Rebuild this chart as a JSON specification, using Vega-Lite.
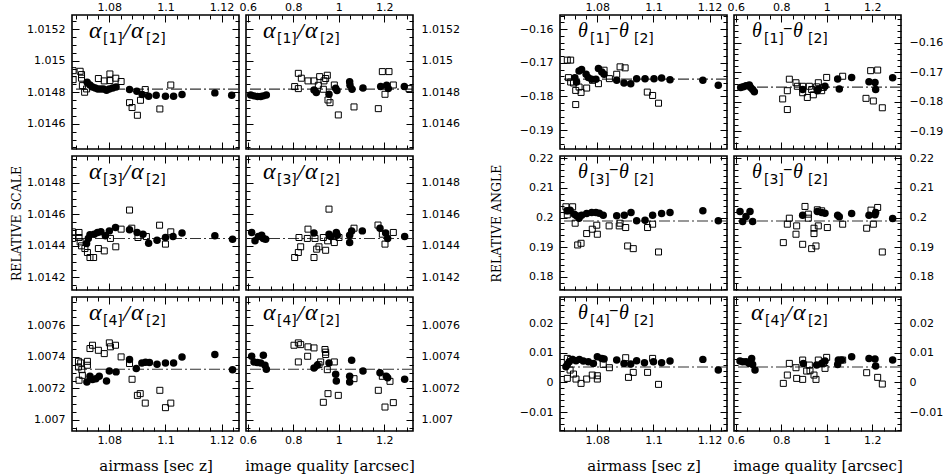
{
  "$schema": "https://vega.github.io/schema/vega-lite/v6.json",
  "background": "white",
  "autosize": {"type": "none"},
  "padding": {"left": 72, "top": 15, "right": 871, "bottom": 460},
  "datasets": {
    "sa1": [
      {"t":"c","x":1.0721,"y":1.014863},{"t":"c","x":1.0731,"y":1.014846},{"t":"c","x":1.074,"y":1.014834},{"t":"c","x":1.075,"y":1.014827},{"t":"c","x":1.0759,"y":1.014821},{"t":"c","x":1.0769,"y":1.014821},{"t":"c","x":1.0779,"y":1.014821},{"t":"c","x":1.079,"y":1.014813},{"t":"c","x":1.08,"y":1.014821},{"t":"c","x":1.0812,"y":1.014827},{"t":"c","x":1.0824,"y":1.014834},{"t":"c","x":1.0872,"y":1.014817},{"t":"c","x":1.0898,"y":1.014806},{"t":"c","x":1.0917,"y":1.014785},{"t":"c","x":1.094,"y":1.014775},{"t":"c","x":1.0967,"y":1.014781},{"t":"c","x":1.1,"y":1.014775},{"t":"c","x":1.1029,"y":1.014775},{"t":"c","x":1.1059,"y":1.014785},{"t":"c","x":1.1176,"y":1.014796},{"t":"c","x":1.1236,"y":1.014781},
      {"t":"s","x":1.0671,"y":1.014937},{"t":"s","x":1.0671,"y":1.01488},{"t":"s","x":1.0696,"y":1.014933},{"t":"s","x":1.0701,"y":1.014912},{"t":"s","x":1.0701,"y":1.014889},{"t":"s","x":1.0704,"y":1.014842},{"t":"s","x":1.0712,"y":1.0148},{"t":"s","x":1.0719,"y":1.014821},{"t":"s","x":1.0761,"y":1.014887},{"t":"s","x":1.0782,"y":1.014872},{"t":"s","x":1.0802,"y":1.014916},{"t":"s","x":1.0802,"y":1.014874},{"t":"s","x":1.0823,"y":1.014889},{"t":"s","x":1.0842,"y":1.014868},{"t":"s","x":1.0928,"y":1.014817},{"t":"s","x":1.0872,"y":1.014734},{"t":"s","x":1.0881,"y":1.014703},{"t":"s","x":1.09,"y":1.014654},{"t":"s","x":1.0911,"y":1.014749},{"t":"s","x":1.098,"y":1.014694},{"t":"s","x":1.1019,"y":1.014846}
    ],
    "sq1": [
      {"t":"c","x":0.6125,"y":1.014783},{"t":"c","x":0.6272,"y":1.014777},{"t":"c","x":0.6418,"y":1.014773},{"t":"c","x":0.6565,"y":1.014773},{"t":"c","x":0.6682,"y":1.014777},{"t":"c","x":0.6814,"y":1.014783},{"t":"c","x":0.8909,"y":1.014815},{"t":"c","x":0.9011,"y":1.014798},{"t":"c","x":0.9568,"y":1.014787},{"t":"c","x":0.986,"y":1.014825},{"t":"c","x":0.9919,"y":1.014811},{"t":"c","x":1.0476,"y":1.014866},{"t":"c","x":1.0491,"y":1.014844},{"t":"c","x":1.0579,"y":1.014819},{"t":"c","x":1.1062,"y":1.014827},{"t":"c","x":1.1839,"y":1.014836},{"t":"c","x":1.2102,"y":1.014844},{"t":"c","x":1.2175,"y":1.014823},{"t":"c","x":1.2879,"y":1.014836},
      {"t":"s","x":0.8059,"y":1.014836},{"t":"s","x":0.822,"y":1.014823},{"t":"s","x":0.822,"y":1.01492},{"t":"s","x":0.8352,"y":1.014889},{"t":"s","x":0.8645,"y":1.014872},{"t":"s","x":0.8909,"y":1.014872},{"t":"s","x":0.9158,"y":1.014899},{"t":"s","x":0.9099,"y":1.014844},{"t":"s","x":0.9348,"y":1.014872},{"t":"s","x":0.9421,"y":1.014887},{"t":"s","x":0.9494,"y":1.014908},{"t":"s","x":0.9319,"y":1.014819},{"t":"s","x":0.9524,"y":1.014751},{"t":"s","x":0.9612,"y":1.014734},{"t":"s","x":0.9802,"y":1.014846},{"t":"s","x":1.0667,"y":1.014707},{"t":"s","x":0.9978,"y":1.014656},{"t":"s","x":1.1736,"y":1.014696},{"t":"s","x":1.1912,"y":1.014931},{"t":"s","x":1.2205,"y":1.014931},{"t":"s","x":1.2029,"y":1.014787},{"t":"s","x":1.2395,"y":1.014846},{"t":"s","x":1.3084,"y":1.014823}
    ],
    "sa2": [
      {"t":"c","x":1.0719,"y":1.014415},{"t":"c","x":1.0725,"y":1.014447},{"t":"c","x":1.0731,"y":1.01447},{"t":"c","x":1.0746,"y":1.014474},{"t":"c","x":1.0758,"y":1.014485},{"t":"c","x":1.077,"y":1.014489},{"t":"c","x":1.0786,"y":1.014464},{"t":"c","x":1.08,"y":1.014495},{"t":"c","x":1.0822,"y":1.014517},{"t":"c","x":1.0872,"y":1.014502},{"t":"c","x":1.0899,"y":1.014485},{"t":"c","x":1.092,"y":1.014474},{"t":"c","x":1.094,"y":1.014417},{"t":"c","x":1.097,"y":1.014436},{"t":"c","x":1.1,"y":1.014453},{"t":"c","x":1.1027,"y":1.014459},{"t":"c","x":1.1059,"y":1.014481},{"t":"c","x":1.1176,"y":1.014464},{"t":"c","x":1.1239,"y":1.014442},
      {"t":"s","x":1.0669,"y":1.014489},{"t":"s","x":1.0669,"y":1.014447},{"t":"s","x":1.0692,"y":1.014485},{"t":"s","x":1.0692,"y":1.014453},{"t":"s","x":1.0696,"y":1.014425},{"t":"s","x":1.0701,"y":1.0144},{"t":"s","x":1.0713,"y":1.014383},{"t":"s","x":1.0722,"y":1.014358},{"t":"s","x":1.0731,"y":1.014326},{"t":"s","x":1.0744,"y":1.014326},{"t":"s","x":1.0761,"y":1.014383},{"t":"s","x":1.0782,"y":1.014368},{"t":"s","x":1.0804,"y":1.014447},{"t":"s","x":1.0823,"y":1.014394},{"t":"s","x":1.0842,"y":1.014506},{"t":"s","x":1.0872,"y":1.014627},{"t":"s","x":1.088,"y":1.014512},{"t":"s","x":1.0902,"y":1.014453},{"t":"s","x":1.0932,"y":1.014459},{"t":"s","x":1.0979,"y":1.014531},{"t":"s","x":1.1,"y":1.014411},{"t":"s","x":1.1019,"y":1.014489}
    ],
    "sq2": [
      {"t":"c","x":0.6169,"y":1.014485},{"t":"c","x":0.6316,"y":1.014432},{"t":"c","x":0.6462,"y":1.014459},{"t":"c","x":0.6609,"y":1.014468},{"t":"c","x":0.6682,"y":1.014447},{"t":"c","x":0.6784,"y":1.014442},{"t":"c","x":0.8909,"y":1.014481},{"t":"c","x":0.9568,"y":1.014474},{"t":"c","x":0.9641,"y":1.014459},{"t":"c","x":0.989,"y":1.014485},{"t":"c","x":0.9934,"y":1.014468},{"t":"c","x":1.0476,"y":1.014468},{"t":"c","x":1.0476,"y":1.014421},{"t":"c","x":1.0564,"y":1.014495},{"t":"c","x":1.1033,"y":1.014495},{"t":"c","x":1.1809,"y":1.014512},{"t":"c","x":1.2058,"y":1.014481},{"t":"c","x":1.2146,"y":1.014447},{"t":"c","x":1.2893,"y":1.014459},
      {"t":"s","x":0.8059,"y":1.014326},{"t":"s","x":0.822,"y":1.014358},{"t":"s","x":0.8323,"y":1.014394},{"t":"s","x":0.8249,"y":1.014453},{"t":"s","x":0.8645,"y":1.014506},{"t":"s","x":0.8616,"y":1.014447},{"t":"s","x":0.8953,"y":1.014447},{"t":"s","x":0.8909,"y":1.014326},{"t":"s","x":0.9026,"y":1.014379},{"t":"s","x":0.9128,"y":1.014394},{"t":"s","x":0.9319,"y":1.014453},{"t":"s","x":0.9421,"y":1.014372},{"t":"s","x":0.9509,"y":1.014432},{"t":"s","x":0.9568,"y":1.014633},{"t":"s","x":0.9802,"y":1.014421},{"t":"s","x":1.0007,"y":1.014453},{"t":"s","x":1.0667,"y":1.014512},{"t":"s","x":1.1721,"y":1.014532},{"t":"s","x":1.1912,"y":1.014474},{"t":"s","x":1.2029,"y":1.014411},{"t":"s","x":1.2395,"y":1.014485}
    ],
    "sa3": [
      {"t":"c","x":1.072,"y":1.007241},{"t":"c","x":1.0731,"y":1.007277},{"t":"c","x":1.074,"y":1.007256},{"t":"c","x":1.0752,"y":1.007262},{"t":"c","x":1.0764,"y":1.007277},{"t":"c","x":1.079,"y":1.007247},{"t":"c","x":1.08,"y":1.007311},{"t":"c","x":1.0824,"y":1.007305},{"t":"c","x":1.0872,"y":1.007383},{"t":"c","x":1.0896,"y":1.007326},{"t":"c","x":1.0916,"y":1.007362},{"t":"c","x":1.0929,"y":1.007366},{"t":"c","x":1.0943,"y":1.007364},{"t":"c","x":1.097,"y":1.007353},{"t":"c","x":1.1,"y":1.007362},{"t":"c","x":1.1029,"y":1.007362},{"t":"c","x":1.1059,"y":1.0074},{"t":"c","x":1.1176,"y":1.007415},{"t":"c","x":1.1239,"y":1.007319},
      {"t":"s","x":1.069,"y":1.007372},{"t":"s","x":1.069,"y":1.007336},{"t":"s","x":1.0692,"y":1.007252},{"t":"s","x":1.0698,"y":1.007362},{"t":"s","x":1.0702,"y":1.007319},{"t":"s","x":1.0704,"y":1.007283},{"t":"s","x":1.0722,"y":1.007372},{"t":"s","x":1.0722,"y":1.007347},{"t":"s","x":1.0731,"y":1.007453},{"t":"s","x":1.074,"y":1.007474},{"t":"s","x":1.0761,"y":1.007442},{"t":"s","x":1.0782,"y":1.007421},{"t":"s","x":1.08,"y":1.007489},{"t":"s","x":1.0804,"y":1.007464},{"t":"s","x":1.0822,"y":1.007474},{"t":"s","x":1.0842,"y":1.0074},{"t":"s","x":1.0872,"y":1.007358},{"t":"s","x":1.0881,"y":1.007258},{"t":"s","x":1.09,"y":1.007156},{"t":"s","x":1.091,"y":1.007167},{"t":"s","x":1.0928,"y":1.007107},{"t":"s","x":1.098,"y":1.007188},{"t":"s","x":1.1,"y":1.007078},{"t":"s","x":1.1019,"y":1.007107}
    ],
    "sq3": [
      {"t":"c","x":0.6169,"y":1.007404},{"t":"c","x":0.6272,"y":1.007368},{"t":"c","x":0.6418,"y":1.007364},{"t":"c","x":0.6565,"y":1.007362},{"t":"c","x":0.6682,"y":1.007411},{"t":"c","x":0.6755,"y":1.007347},{"t":"c","x":0.6814,"y":1.007322},{"t":"c","x":0.8909,"y":1.00733},{"t":"c","x":0.9055,"y":1.007347},{"t":"c","x":0.9568,"y":1.007362},{"t":"c","x":0.9861,"y":1.00729},{"t":"c","x":0.989,"y":1.007247},{"t":"c","x":1.0476,"y":1.007277},{"t":"c","x":1.0476,"y":1.007241},{"t":"c","x":1.0564,"y":1.007379},{"t":"c","x":1.1062,"y":1.007311},{"t":"c","x":1.1809,"y":1.0073},{"t":"c","x":1.2087,"y":1.007277},{"t":"c","x":1.2146,"y":1.007268},{"t":"c","x":1.2893,"y":1.007258},
      {"t":"s","x":0.803,"y":1.007474},{"t":"s","x":0.822,"y":1.007489},{"t":"s","x":0.8323,"y":1.007478},{"t":"s","x":0.8645,"y":1.007464},{"t":"s","x":0.8909,"y":1.007457},{"t":"s","x":0.822,"y":1.007368},{"t":"s","x":0.863,"y":1.007404},{"t":"s","x":0.9202,"y":1.007368},{"t":"s","x":0.9128,"y":1.007351},{"t":"s","x":0.9392,"y":1.007447},{"t":"s","x":0.9421,"y":1.00743},{"t":"s","x":0.9421,"y":1.007415},{"t":"s","x":0.9494,"y":1.007319},{"t":"s","x":0.9802,"y":1.007368},{"t":"s","x":0.9524,"y":1.007167},{"t":"s","x":0.9319,"y":1.007112},{"t":"s","x":0.9978,"y":1.007156},{"t":"s","x":1.0667,"y":1.007262},{"t":"s","x":1.1736,"y":1.007188},{"t":"s","x":1.1912,"y":1.007277},{"t":"s","x":1.2029,"y":1.007082},{"t":"s","x":1.2249,"y":1.007245},{"t":"s","x":1.2395,"y":1.00711}
    ],
    "ta1": [
      {"t":"c","x":1.072,"y":-0.1744},{"t":"c","x":1.0726,"y":-0.1757},{"t":"c","x":1.0735,"y":-0.1724},{"t":"c","x":1.0744,"y":-0.172},{"t":"c","x":1.076,"y":-0.1734},{"t":"c","x":1.0768,"y":-0.1744},{"t":"c","x":1.078,"y":-0.1749},{"t":"c","x":1.0795,"y":-0.1749},{"t":"c","x":1.0804,"y":-0.1717},{"t":"c","x":1.0816,"y":-0.1727},{"t":"c","x":1.0824,"y":-0.1734},{"t":"c","x":1.0869,"y":-0.1752},{"t":"c","x":1.0895,"y":-0.176},{"t":"c","x":1.0919,"y":-0.1762},{"t":"c","x":1.094,"y":-0.1747},{"t":"c","x":1.097,"y":-0.1747},{"t":"c","x":1.1002,"y":-0.1747},{"t":"c","x":1.1029,"y":-0.1745},{"t":"c","x":1.1059,"y":-0.175},{"t":"c","x":1.1176,"y":-0.1752},{"t":"c","x":1.1231,"y":-0.1767},
      {"t":"s","x":1.0693,"y":-0.1692},{"t":"s","x":1.0705,"y":-0.1692},{"t":"s","x":1.0697,"y":-0.1744},{"t":"s","x":1.0705,"y":-0.1757},{"t":"s","x":1.0715,"y":-0.176},{"t":"s","x":1.0723,"y":-0.1782},{"t":"s","x":1.0723,"y":-0.1824},{"t":"s","x":1.0735,"y":-0.1772},{"t":"s","x":1.0742,"y":-0.1788},{"t":"s","x":1.0762,"y":-0.1775},{"t":"s","x":1.0783,"y":-0.1752},{"t":"s","x":1.0804,"y":-0.1762},{"t":"s","x":1.0824,"y":-0.1722},{"t":"s","x":1.0843,"y":-0.1747},{"t":"s","x":1.0869,"y":-0.1734},{"t":"s","x":1.0881,"y":-0.1712},{"t":"s","x":1.0899,"y":-0.1715},{"t":"s","x":1.0978,"y":-0.1787},{"t":"s","x":1.0997,"y":-0.1797},{"t":"s","x":1.1018,"y":-0.182}
    ],
    "tq1": [
      {"t":"c","x":0.6213,"y":-0.1752},{"t":"c","x":0.633,"y":-0.175},{"t":"c","x":0.6447,"y":-0.1746},{"t":"c","x":0.6594,"y":-0.1744},{"t":"c","x":0.6653,"y":-0.1752},{"t":"c","x":0.674,"y":-0.1759},{"t":"c","x":0.6814,"y":-0.1767},{"t":"c","x":0.8938,"y":-0.1759},{"t":"c","x":0.9583,"y":-0.1763},{"t":"c","x":0.9626,"y":-0.1758},{"t":"c","x":0.992,"y":-0.1748},{"t":"c","x":1.0476,"y":-0.1723},{"t":"c","x":1.0549,"y":-0.1757},{"t":"c","x":1.1091,"y":-0.1718},{"t":"c","x":1.1853,"y":-0.1733},{"t":"c","x":1.2117,"y":-0.1735},{"t":"c","x":1.2146,"y":-0.1759},{"t":"c","x":1.2893,"y":-0.1719},
      {"t":"s","x":0.8059,"y":-0.1791},{"t":"s","x":0.8264,"y":-0.1827},{"t":"s","x":0.8352,"y":-0.1724},{"t":"s","x":0.8264,"y":-0.1763},{"t":"s","x":0.8645,"y":-0.1736},{"t":"s","x":0.8704,"y":-0.1748},{"t":"s","x":0.8938,"y":-0.1748},{"t":"s","x":0.8938,"y":-0.177},{"t":"s","x":0.9143,"y":-0.1786},{"t":"s","x":0.9231,"y":-0.1748},{"t":"s","x":0.9333,"y":-0.1759},{"t":"s","x":0.9407,"y":-0.1777},{"t":"s","x":0.9553,"y":-0.175},{"t":"s","x":0.9626,"y":-0.1736},{"t":"s","x":0.9773,"y":-0.1763},{"t":"s","x":0.9846,"y":-0.1752},{"t":"s","x":0.9993,"y":-0.1718},{"t":"s","x":1.0696,"y":-0.1714},{"t":"s","x":1.1721,"y":-0.1789},{"t":"s","x":1.1927,"y":-0.1695},{"t":"s","x":1.2234,"y":-0.1693},{"t":"s","x":1.2044,"y":-0.1798},{"t":"s","x":1.2439,"y":-0.1821}
    ],
    "ta2": [
      {"t":"c","x":1.0693,"y":0.20225},{"t":"c","x":1.0703,"y":0.20248},{"t":"c","x":1.0718,"y":0.20113},{"t":"c","x":1.0726,"y":0.20056},{"t":"c","x":1.0735,"y":0.19977},{"t":"c","x":1.0744,"y":0.20079},{"t":"c","x":1.0762,"y":0.20135},{"t":"c","x":1.078,"y":0.20169},{"t":"c","x":1.0795,"y":0.20169},{"t":"c","x":1.0807,"y":0.20147},{"t":"c","x":1.0821,"y":0.20079},{"t":"c","x":1.0869,"y":0.20056},{"t":"c","x":1.0896,"y":0.20079},{"t":"c","x":1.092,"y":0.20169},{"t":"c","x":1.094,"y":0.19887},{"t":"c","x":1.097,"y":0.1991},{"t":"c","x":1.0997,"y":0.20079},{"t":"c","x":1.1029,"y":0.20135},{"t":"c","x":1.1059,"y":0.20169},{"t":"c","x":1.1176,"y":0.20225},{"t":"c","x":1.1231,"y":0.19887},
      {"t":"s","x":1.0688,"y":0.20361},{"t":"s","x":1.0693,"y":0.20225},{"t":"s","x":1.0693,"y":0.2009},{"t":"s","x":1.0712,"y":0.20361},{"t":"s","x":1.0721,"y":0.19808},{"t":"s","x":1.073,"y":0.19076},{"t":"s","x":1.0742,"y":0.19132},{"t":"s","x":1.0762,"y":0.19459},{"t":"s","x":1.0782,"y":0.19606},{"t":"s","x":1.0798,"y":0.19741},{"t":"s","x":1.08,"y":0.19437},{"t":"s","x":1.0842,"y":0.19718},{"t":"s","x":1.0878,"y":0.19718},{"t":"s","x":1.0881,"y":0.19808},{"t":"s","x":1.0901,"y":0.19662},{"t":"s","x":1.0908,"y":0.19042},{"t":"s","x":1.0928,"y":0.18952},{"t":"s","x":1.0979,"y":0.19662},{"t":"s","x":1.0997,"y":0.19775},{"t":"s","x":1.1018,"y":0.18839}
    ],
    "tq2": [
      {"t":"c","x":0.6184,"y":0.20203},{"t":"c","x":0.6623,"y":0.20203},{"t":"c","x":0.6447,"y":0.20034},{"t":"c","x":0.6301,"y":0.19865},{"t":"c","x":0.674,"y":0.19865},{"t":"c","x":0.8938,"y":0.20079},{"t":"c","x":0.9583,"y":0.20203},{"t":"c","x":0.9773,"y":0.20169},{"t":"c","x":0.992,"y":0.20147},{"t":"c","x":1.0476,"y":0.20079},{"t":"c","x":1.0549,"y":0.20023},{"t":"c","x":1.1091,"y":0.20135},{"t":"c","x":1.1853,"y":0.20079},{"t":"c","x":1.2117,"y":0.2009},{"t":"c","x":1.2146,"y":0.20169},{"t":"c","x":1.2893,"y":0.19966},
      {"t":"s","x":0.8088,"y":0.19155},{"t":"s","x":0.8264,"y":0.19775},{"t":"s","x":0.8352,"y":0.19977},{"t":"s","x":0.8645,"y":0.19437},{"t":"s","x":0.8674,"y":0.19718},{"t":"s","x":0.8938,"y":0.19098},{"t":"s","x":0.904,"y":0.20372},{"t":"s","x":0.9187,"y":0.20113},{"t":"s","x":0.9187,"y":0.19977},{"t":"s","x":0.9333,"y":0.18952},{"t":"s","x":0.9436,"y":0.19639},{"t":"s","x":0.9436,"y":0.19459},{"t":"s","x":0.9524,"y":0.19042},{"t":"s","x":0.9626,"y":0.19718},{"t":"s","x":0.9583,"y":0.20259},{"t":"s","x":0.9773,"y":0.20225},{"t":"s","x":1.0022,"y":0.19662},{"t":"s","x":1.0696,"y":0.19775},{"t":"s","x":1.1751,"y":0.19639},{"t":"s","x":1.1941,"y":0.20248},{"t":"s","x":1.2044,"y":0.19775},{"t":"s","x":1.2234,"y":0.20338},{"t":"s","x":1.2439,"y":0.18839}
    ],
    "ta3": [
      {"t":"c","x":1.0688,"y":0.00528},{"t":"c","x":1.0693,"y":0.00607},{"t":"c","x":1.07,"y":0.00697},{"t":"c","x":1.0712,"y":0.00776},{"t":"c","x":1.0724,"y":0.00731},{"t":"c","x":1.0736,"y":0.00776},{"t":"c","x":1.075,"y":0.00719},{"t":"c","x":1.0768,"y":0.00697},{"t":"c","x":1.0786,"y":0.00641},{"t":"c","x":1.08,"y":0.00865},{"t":"c","x":1.0816,"y":0.00809},{"t":"c","x":1.0824,"y":0.00787},{"t":"c","x":1.0869,"y":0.00753},{"t":"c","x":1.0895,"y":0.00641},{"t":"c","x":1.0919,"y":0.00618},{"t":"c","x":1.094,"y":0.00731},{"t":"c","x":1.0968,"y":0.00663},{"t":"c","x":1.1,"y":0.00697},{"t":"c","x":1.1029,"y":0.00663},{"t":"c","x":1.1059,"y":0.00719},{"t":"c","x":1.1176,"y":0.00776},{"t":"c","x":1.1231,"y":0.00416},
      {"t":"s","x":1.0693,"y":0.00809},{"t":"s","x":1.0705,"y":0.00776},{"t":"s","x":1.0693,"y":0.00135},{"t":"s","x":1.0703,"y":0.00416},{"t":"s","x":1.0715,"y":0.00281},{"t":"s","x":1.0724,"y":0.00112},{"t":"s","x":1.0742,"y":-0.00034},{"t":"s","x":1.0762,"y":0.00112},{"t":"s","x":1.0782,"y":0.00247},{"t":"s","x":1.08,"y":0.00225},{"t":"s","x":1.08,"y":0.00112},{"t":"s","x":1.0821,"y":0.00607},{"t":"s","x":1.0843,"y":0.00495},{"t":"s","x":1.0901,"y":0.00832},{"t":"s","x":1.0911,"y":0.00169},{"t":"s","x":1.0928,"y":0.00337},{"t":"s","x":1.0979,"y":0.00337},{"t":"s","x":1.0997,"y":0.00809},{"t":"s","x":1.1018,"y":-0.00067}
    ],
    "tq3": [
      {"t":"c","x":0.6184,"y":0.00719},{"t":"c","x":0.6301,"y":0.00697},{"t":"c","x":0.6447,"y":0.00697},{"t":"c","x":0.6594,"y":0.00641},{"t":"c","x":0.6696,"y":0.00809},{"t":"c","x":0.674,"y":0.00607},{"t":"c","x":0.6843,"y":0.00416},{"t":"c","x":0.8967,"y":0.00641},{"t":"c","x":0.9553,"y":0.00584},{"t":"c","x":0.9773,"y":0.00641},{"t":"c","x":0.992,"y":0.00719},{"t":"c","x":1.0476,"y":0.00607},{"t":"c","x":1.0505,"y":0.00753},{"t":"c","x":1.0652,"y":0.00753},{"t":"c","x":1.1091,"y":0.00865},{"t":"c","x":1.1853,"y":0.00809},{"t":"c","x":1.2117,"y":0.00787},{"t":"c","x":1.2146,"y":0.00551},{"t":"c","x":1.2893,"y":0.00753},
      {"t":"s","x":0.8088,"y":-0.00034},{"t":"s","x":0.8264,"y":0.00247},{"t":"s","x":0.8352,"y":0.00641},{"t":"s","x":0.8645,"y":0.00495},{"t":"s","x":0.8674,"y":0.00135},{"t":"s","x":0.8938,"y":0.00101},{"t":"s","x":0.8938,"y":0.00753},{"t":"s","x":0.9114,"y":0.00382},{"t":"s","x":0.9231,"y":0.00584},{"t":"s","x":0.926,"y":0.00393},{"t":"s","x":0.9436,"y":0.00247},{"t":"s","x":0.9524,"y":0.00101},{"t":"s","x":0.9626,"y":0.00753},{"t":"s","x":0.9846,"y":0.00641},{"t":"s","x":0.992,"y":0.00472},{"t":"s","x":0.9993,"y":0.00843},{"t":"s","x":1.0696,"y":0.00753},{"t":"s","x":1.1751,"y":0.00326},{"t":"s","x":1.2234,"y":0.00169},{"t":"s","x":1.2439,"y":-0.00056}
    ]
  },
  "concat": [
    {
      "width": 167, "height": 134, "data": {"name": "sa1"},
      "layer": [
        {"data": {"values": [{}]}, "mark": {"type": "rule", "color": "#333333", "strokeWidth": 1.1, "strokeDash": [11, 3, 2, 3]}, "encoding": {"y": {"datum": 1.01482, "type": "quantitative", "axis": null}}},
        {"transform": [{"filter": "datum.t == 's'"}], "mark": {"type": "square", "filled": false, "color": "black", "size": 36, "strokeWidth": 1, "opacity": 1, "clip": true},
         "encoding": {
           "x": {"field": "x", "type": "quantitative", "scale": {"domain": [1.0667, 1.1262], "nice": false, "zero": false}, "axis": {"orient": "bottom", "values": [1.08, 1.1, 1.12], "labels": false, "title": null}},
           "y": {"field": "y", "type": "quantitative", "scale": {"domain": [1.01444, 1.01529], "nice": false, "zero": false}, "axis": {"orient": "left", "values": [1.0146, 1.0148, 1.015, 1.0152], "format": "~g", "title": null}}}},
        {"transform": [{"filter": "datum.t == 'c'"}], "mark": {"type": "circle", "color": "black", "size": 56, "opacity": 1, "clip": true},
         "encoding": {
           "x": {"field": "x", "type": "quantitative", "axis": {"orient": "top", "values": [1.08, 1.1, 1.12], "format": "~g", "title": null}},
           "y": {"field": "y", "type": "quantitative", "axis": {"orient": "right", "values": [1.0146, 1.0148, 1.015, 1.0152], "labels": false, "title": null}}}},
        {"mark": {"type": "point", "opacity": 0},
         "encoding": {
           "x": {"field": "x", "type": "quantitative", "axis": {"orient": "bottom", "values": [1.068,1.072,1.076,1.08,1.084,1.088,1.092,1.096,1.1,1.104,1.108,1.112,1.116,1.12,1.124], "labels": false, "tickSize": -4, "title": null}},
           "y": {"field": "y", "type": "quantitative", "axis": {"orient": "left", "values": [1.01445,1.0145,1.01455,1.0146,1.01465,1.0147,1.01475,1.0148,1.01485,1.0149,1.01495,1.015,1.01505,1.0151,1.01515,1.0152,1.01525], "labels": false, "tickSize": -4, "title": null}}}},
        {"mark": {"type": "point", "opacity": 0},
         "encoding": {
           "x": {"field": "x", "type": "quantitative", "axis": {"orient": "top", "values": [1.068,1.072,1.076,1.08,1.084,1.088,1.092,1.096,1.1,1.104,1.108,1.112,1.116,1.12,1.124], "labels": false, "tickSize": -4, "title": null}},
           "y": {"field": "y", "type": "quantitative", "axis": {"orient": "right", "values": [1.01445,1.0145,1.01455,1.0146,1.01465,1.0147,1.01475,1.0148,1.01485,1.0149,1.01495,1.015,1.01505,1.0151,1.01515,1.0152,1.01525], "labels": false, "tickSize": -4, "title": null}}}},
        {"data": {"values": [{}]},
         "encoding": {"x": {"datum": 1.0667, "type": "quantitative", "axis": null}, "y": {"datum": 1.01529, "type": "quantitative", "axis": null}},
         "layer": [
           {"mark": {"type": "text", "text": "α", "font": "Liberation Serif", "fontStyle": "italic", "fontSize": 24, "align": "left", "baseline": "alphabetic", "color": "black", "dx": 17, "dy": 23}},
           {"mark": {"type": "text", "text": "[1]", "font": "DejaVu Sans", "fontSize": 14, "align": "left", "baseline": "alphabetic", "color": "black", "dx": 31, "dy": 28}},
           {"mark": {"type": "text", "text": "/", "font": "Liberation Serif", "fontStyle": "italic", "fontSize": 24, "align": "left", "baseline": "alphabetic", "color": "black", "dx": 51, "dy": 24}},
           {"mark": {"type": "text", "text": "α", "font": "Liberation Serif", "fontStyle": "italic", "fontSize": 24, "align": "left", "baseline": "alphabetic", "color": "black", "dx": 59, "dy": 23}},
           {"mark": {"type": "text", "text": "[2]", "font": "DejaVu Sans", "fontSize": 14, "align": "left", "baseline": "alphabetic", "color": "black", "dx": 74, "dy": 28}}
         ]}
      ],
      "resolve": {"axis": {"x": "independent", "y": "independent"}}
    },
    {
      "width": 167, "height": 134, "data": {"name": "sq1"},
      "layer": [
        {"data": {"values": [{}]}, "mark": {"type": "rule", "color": "#333333", "strokeWidth": 1.1, "strokeDash": [11, 3, 2, 3]}, "encoding": {"y": {"datum": 1.01482, "type": "quantitative", "axis": null}}},
        {"transform": [{"filter": "datum.t == 's'"}], "mark": {"type": "square", "filled": false, "color": "black", "size": 36, "strokeWidth": 1, "opacity": 1, "clip": true},
         "encoding": {
           "x": {"field": "x", "type": "quantitative", "scale": {"domain": [0.592, 1.326], "nice": false, "zero": false}, "axis": {"orient": "bottom", "values": [0.6, 0.8, 1, 1.2], "labels": false, "title": null}},
           "y": {"field": "y", "type": "quantitative", "scale": {"domain": [1.01444, 1.01529], "nice": false, "zero": false}, "axis": {"orient": "left", "values": [1.0146, 1.0148, 1.015, 1.0152], "labels": false, "title": null}}}},
        {"transform": [{"filter": "datum.t == 'c'"}], "mark": {"type": "circle", "color": "black", "size": 56, "opacity": 1, "clip": true},
         "encoding": {
           "x": {"field": "x", "type": "quantitative", "axis": {"orient": "top", "values": [0.6, 0.8, 1, 1.2], "format": "~g", "title": null}},
           "y": {"field": "y", "type": "quantitative", "axis": {"orient": "right", "values": [1.0146, 1.0148, 1.015, 1.0152], "format": "~g", "title": null}}}},
        {"mark": {"type": "point", "opacity": 0},
         "encoding": {
           "x": {"field": "x", "type": "quantitative", "axis": {"orient": "bottom", "values": [0.6,0.65,0.7,0.75,0.8,0.85,0.9,0.95,1,1.05,1.1,1.15,1.2,1.25,1.3], "labels": false, "tickSize": -4, "title": null}},
           "y": {"field": "y", "type": "quantitative", "axis": {"orient": "left", "values": [1.01445,1.0145,1.01455,1.0146,1.01465,1.0147,1.01475,1.0148,1.01485,1.0149,1.01495,1.015,1.01505,1.0151,1.01515,1.0152,1.01525], "labels": false, "tickSize": -4, "title": null}}}},
        {"mark": {"type": "point", "opacity": 0},
         "encoding": {
           "x": {"field": "x", "type": "quantitative", "axis": {"orient": "top", "values": [0.6,0.65,0.7,0.75,0.8,0.85,0.9,0.95,1,1.05,1.1,1.15,1.2,1.25,1.3], "labels": false, "tickSize": -4, "title": null}},
           "y": {"field": "y", "type": "quantitative", "axis": {"orient": "right", "values": [1.01445,1.0145,1.01455,1.0146,1.01465,1.0147,1.01475,1.0148,1.01485,1.0149,1.01495,1.015,1.01505,1.0151,1.01515,1.0152,1.01525], "labels": false, "tickSize": -4, "title": null}}}},
        {"data": {"values": [{}]},
         "encoding": {"x": {"datum": 0.592, "type": "quantitative", "axis": null}, "y": {"datum": 1.01529, "type": "quantitative", "axis": null}},
         "layer": [
           {"mark": {"type": "text", "text": "α", "font": "Liberation Serif", "fontStyle": "italic", "fontSize": 24, "align": "left", "baseline": "alphabetic", "color": "black", "dx": 17, "dy": 23}},
           {"mark": {"type": "text", "text": "[1]", "font": "DejaVu Sans", "fontSize": 14, "align": "left", "baseline": "alphabetic", "color": "black", "dx": 31, "dy": 28}},
           {"mark": {"type": "text", "text": "/", "font": "Liberation Serif", "fontStyle": "italic", "fontSize": 24, "align": "left", "baseline": "alphabetic", "color": "black", "dx": 51, "dy": 24}},
           {"mark": {"type": "text", "text": "α", "font": "Liberation Serif", "fontStyle": "italic", "fontSize": 24, "align": "left", "baseline": "alphabetic", "color": "black", "dx": 59, "dy": 23}},
           {"mark": {"type": "text", "text": "[2]", "font": "DejaVu Sans", "fontSize": 14, "align": "left", "baseline": "alphabetic", "color": "black", "dx": 74, "dy": 28}}
         ]}
      ],
      "resolve": {"axis": {"x": "independent", "y": "independent"}}
    },
    {"width": 133, "height": 134, "data": {"values": [{}]}, "mark": {"type": "point", "opacity": 0}, "view": {"stroke": null}},
    {
      "width": 167, "height": 134, "data": {"name": "ta1"},
      "layer": [
        {"data": {"values": [{}]}, "mark": {"type": "rule", "color": "#333333", "strokeWidth": 1.1, "strokeDash": [11, 3, 2, 3]}, "encoding": {"y": {"datum": -0.17485, "type": "quantitative", "axis": null}}},
        {"transform": [{"filter": "datum.t == 's'"}], "mark": {"type": "square", "filled": false, "color": "black", "size": 36, "strokeWidth": 1, "opacity": 1, "clip": true},
         "encoding": {
           "x": {"field": "x", "type": "quantitative", "scale": {"domain": [1.0667, 1.1262], "nice": false, "zero": false}, "axis": {"orient": "bottom", "values": [1.08, 1.1, 1.12], "labels": false, "title": null}},
           "y": {"field": "y", "type": "quantitative", "scale": {"domain": [-0.1956, -0.1558], "nice": false, "zero": false}, "axis": {"orient": "left", "values": [-0.19, -0.18, -0.17, -0.16], "format": "~g", "title": null}}}},
        {"transform": [{"filter": "datum.t == 'c'"}], "mark": {"type": "circle", "color": "black", "size": 56, "opacity": 1, "clip": true},
         "encoding": {
           "x": {"field": "x", "type": "quantitative", "axis": {"orient": "top", "values": [1.08, 1.1, 1.12], "format": "~g", "title": null}},
           "y": {"field": "y", "type": "quantitative", "axis": {"orient": "right", "values": [-0.19, -0.18, -0.17, -0.16], "labels": false, "title": null}}}},
        {"mark": {"type": "point", "opacity": 0},
         "encoding": {
           "x": {"field": "x", "type": "quantitative", "axis": {"orient": "bottom", "values": [1.068,1.072,1.076,1.08,1.084,1.088,1.092,1.096,1.1,1.104,1.108,1.112,1.116,1.12,1.124], "labels": false, "tickSize": -4, "title": null}},
           "y": {"field": "y", "type": "quantitative", "axis": {"orient": "left", "values": [-0.194,-0.192,-0.19,-0.188,-0.186,-0.184,-0.182,-0.18,-0.178,-0.176,-0.174,-0.172,-0.17,-0.168,-0.166,-0.164,-0.162,-0.16,-0.158,-0.156], "labels": false, "tickSize": -4, "title": null}}}},
        {"mark": {"type": "point", "opacity": 0},
         "encoding": {
           "x": {"field": "x", "type": "quantitative", "axis": {"orient": "top", "values": [1.068,1.072,1.076,1.08,1.084,1.088,1.092,1.096,1.1,1.104,1.108,1.112,1.116,1.12,1.124], "labels": false, "tickSize": -4, "title": null}},
           "y": {"field": "y", "type": "quantitative", "axis": {"orient": "right", "values": [-0.194,-0.192,-0.19,-0.188,-0.186,-0.184,-0.182,-0.18,-0.178,-0.176,-0.174,-0.172,-0.17,-0.168,-0.166,-0.164,-0.162,-0.16,-0.158,-0.156], "labels": false, "tickSize": -4, "title": null}}}},
        {"data": {"values": [{}]},
         "encoding": {"x": {"datum": 1.0667, "type": "quantitative", "axis": null}, "y": {"datum": -0.1558, "type": "quantitative", "axis": null}},
         "layer": [
           {"mark": {"type": "text", "text": "θ", "font": "Liberation Serif", "fontStyle": "italic", "fontSize": 20, "align": "left", "baseline": "alphabetic", "color": "black", "dx": 18, "dy": 22}},
           {"mark": {"type": "text", "text": "[1]", "font": "DejaVu Sans", "fontSize": 14, "align": "left", "baseline": "alphabetic", "color": "black", "dx": 30, "dy": 28}},
           {"mark": {"type": "text", "text": "−", "font": "Liberation Sans", "fontSize": 16, "align": "left", "baseline": "alphabetic", "color": "black", "dx": 49, "dy": 19}},
           {"mark": {"type": "text", "text": "θ", "font": "Liberation Serif", "fontStyle": "italic", "fontSize": 20, "align": "left", "baseline": "alphabetic", "color": "black", "dx": 59, "dy": 22}},
           {"mark": {"type": "text", "text": "[2]", "font": "DejaVu Sans", "fontSize": 14, "align": "left", "baseline": "alphabetic", "color": "black", "dx": 74, "dy": 28}}
         ]}
      ],
      "resolve": {"axis": {"x": "independent", "y": "independent"}}
    },
    {
      "width": 167, "height": 134, "data": {"name": "tq1"},
      "layer": [
        {"data": {"values": [{}]}, "mark": {"type": "rule", "color": "#333333", "strokeWidth": 1.1, "strokeDash": [11, 3, 2, 3]}, "encoding": {"y": {"datum": -0.1751, "type": "quantitative", "axis": null}}},
        {"transform": [{"filter": "datum.t == 's'"}], "mark": {"type": "square", "filled": false, "color": "black", "size": 36, "strokeWidth": 1, "opacity": 1, "clip": true},
         "encoding": {
           "x": {"field": "x", "type": "quantitative", "scale": {"domain": [0.592, 1.326], "nice": false, "zero": false}, "axis": {"orient": "bottom", "values": [0.6, 0.8, 1, 1.2], "labels": false, "title": null}},
           "y": {"field": "y", "type": "quantitative", "scale": {"domain": [-0.1961, -0.1506], "nice": false, "zero": false}, "axis": {"orient": "left", "values": [-0.19, -0.18, -0.17, -0.16], "labels": false, "title": null}}}},
        {"transform": [{"filter": "datum.t == 'c'"}], "mark": {"type": "circle", "color": "black", "size": 56, "opacity": 1, "clip": true},
         "encoding": {
           "x": {"field": "x", "type": "quantitative", "axis": {"orient": "top", "values": [0.6, 0.8, 1, 1.2], "format": "~g", "title": null}},
           "y": {"field": "y", "type": "quantitative", "axis": {"orient": "right", "values": [-0.19, -0.18, -0.17, -0.16], "format": "~g", "title": null}}}},
        {"mark": {"type": "point", "opacity": 0},
         "encoding": {
           "x": {"field": "x", "type": "quantitative", "axis": {"orient": "bottom", "values": [0.6,0.65,0.7,0.75,0.8,0.85,0.9,0.95,1,1.05,1.1,1.15,1.2,1.25,1.3], "labels": false, "tickSize": -4, "title": null}},
           "y": {"field": "y", "type": "quantitative", "axis": {"orient": "left", "values": [-0.196,-0.194,-0.192,-0.19,-0.188,-0.186,-0.184,-0.182,-0.18,-0.178,-0.176,-0.174,-0.172,-0.17,-0.168,-0.166,-0.164,-0.162,-0.16,-0.158,-0.156,-0.154,-0.152], "labels": false, "tickSize": -4, "title": null}}}},
        {"mark": {"type": "point", "opacity": 0},
         "encoding": {
           "x": {"field": "x", "type": "quantitative", "axis": {"orient": "top", "values": [0.6,0.65,0.7,0.75,0.8,0.85,0.9,0.95,1,1.05,1.1,1.15,1.2,1.25,1.3], "labels": false, "tickSize": -4, "title": null}},
           "y": {"field": "y", "type": "quantitative", "axis": {"orient": "right", "values": [-0.196,-0.194,-0.192,-0.19,-0.188,-0.186,-0.184,-0.182,-0.18,-0.178,-0.176,-0.174,-0.172,-0.17,-0.168,-0.166,-0.164,-0.162,-0.16,-0.158,-0.156,-0.154,-0.152], "labels": false, "tickSize": -4, "title": null}}}},
        {"data": {"values": [{}]},
         "encoding": {"x": {"datum": 0.592, "type": "quantitative", "axis": null}, "y": {"datum": -0.1506, "type": "quantitative", "axis": null}},
         "layer": [
           {"mark": {"type": "text", "text": "θ", "font": "Liberation Serif", "fontStyle": "italic", "fontSize": 20, "align": "left", "baseline": "alphabetic", "color": "black", "dx": 18, "dy": 22}},
           {"mark": {"type": "text", "text": "[1]", "font": "DejaVu Sans", "fontSize": 14, "align": "left", "baseline": "alphabetic", "color": "black", "dx": 30, "dy": 28}},
           {"mark": {"type": "text", "text": "−", "font": "Liberation Sans", "fontSize": 16, "align": "left", "baseline": "alphabetic", "color": "black", "dx": 49, "dy": 19}},
           {"mark": {"type": "text", "text": "θ", "font": "Liberation Serif", "fontStyle": "italic", "fontSize": 20, "align": "left", "baseline": "alphabetic", "color": "black", "dx": 59, "dy": 22}},
           {"mark": {"type": "text", "text": "[2]", "font": "DejaVu Sans", "fontSize": 14, "align": "left", "baseline": "alphabetic", "color": "black", "dx": 74, "dy": 28}}
         ]}
      ],
      "resolve": {"axis": {"x": "independent", "y": "independent"}}
    },
    {
      "width": 167, "height": 134, "data": {"name": "sa2"},
      "layer": [
        {"data": {"values": [{}]}, "mark": {"type": "rule", "color": "#333333", "strokeWidth": 1.1, "strokeDash": [11, 3, 2, 3]}, "encoding": {"y": {"datum": 1.014447, "type": "quantitative", "axis": null}}},
        {"transform": [{"filter": "datum.t == 's'"}], "mark": {"type": "square", "filled": false, "color": "black", "size": 36, "strokeWidth": 1, "opacity": 1, "clip": true},
         "encoding": {
           "x": {"field": "x", "type": "quantitative", "scale": {"domain": [1.0667, 1.1262], "nice": false, "zero": false}, "axis": {"orient": "bottom", "values": [1.08, 1.1, 1.12], "labels": false, "title": null}},
           "y": {"field": "y", "type": "quantitative", "scale": {"domain": [1.01412, 1.01497], "nice": false, "zero": false}, "axis": {"orient": "left", "values": [1.0142, 1.0144, 1.0146, 1.0148], "format": "~g", "title": "RELATIVE SCALE", "titleFontSize": 12.5, "titlePadding": 3}}}},
        {"transform": [{"filter": "datum.t == 'c'"}], "mark": {"type": "circle", "color": "black", "size": 56, "opacity": 1, "clip": true},
         "encoding": {
           "x": {"field": "x", "type": "quantitative", "axis": {"orient": "top", "values": [1.08, 1.1, 1.12], "labels": false, "title": null}},
           "y": {"field": "y", "type": "quantitative", "axis": {"orient": "right", "values": [1.0142, 1.0144, 1.0146, 1.0148], "labels": false, "title": null}}}},
        {"mark": {"type": "point", "opacity": 0},
         "encoding": {
           "x": {"field": "x", "type": "quantitative", "axis": {"orient": "bottom", "values": [1.068,1.072,1.076,1.08,1.084,1.088,1.092,1.096,1.1,1.104,1.108,1.112,1.116,1.12,1.124], "labels": false, "tickSize": -4, "title": null}},
           "y": {"field": "y", "type": "quantitative", "axis": {"orient": "left", "values": [1.01415,1.0142,1.01425,1.0143,1.01435,1.0144,1.01445,1.0145,1.01455,1.0146,1.01465,1.0147,1.01475,1.0148,1.01485,1.0149,1.01495], "labels": false, "tickSize": -4, "title": null}}}},
        {"mark": {"type": "point", "opacity": 0},
         "encoding": {
           "x": {"field": "x", "type": "quantitative", "axis": {"orient": "top", "values": [1.068,1.072,1.076,1.08,1.084,1.088,1.092,1.096,1.1,1.104,1.108,1.112,1.116,1.12,1.124], "labels": false, "tickSize": -4, "title": null}},
           "y": {"field": "y", "type": "quantitative", "axis": {"orient": "right", "values": [1.01415,1.0142,1.01425,1.0143,1.01435,1.0144,1.01445,1.0145,1.01455,1.0146,1.01465,1.0147,1.01475,1.0148,1.01485,1.0149,1.01495], "labels": false, "tickSize": -4, "title": null}}}},
        {"data": {"values": [{}]},
         "encoding": {"x": {"datum": 1.0667, "type": "quantitative", "axis": null}, "y": {"datum": 1.01497, "type": "quantitative", "axis": null}},
         "layer": [
           {"mark": {"type": "text", "text": "α", "font": "Liberation Serif", "fontStyle": "italic", "fontSize": 24, "align": "left", "baseline": "alphabetic", "color": "black", "dx": 17, "dy": 23}},
           {"mark": {"type": "text", "text": "[3]", "font": "DejaVu Sans", "fontSize": 14, "align": "left", "baseline": "alphabetic", "color": "black", "dx": 31, "dy": 28}},
           {"mark": {"type": "text", "text": "/", "font": "Liberation Serif", "fontStyle": "italic", "fontSize": 24, "align": "left", "baseline": "alphabetic", "color": "black", "dx": 51, "dy": 24}},
           {"mark": {"type": "text", "text": "α", "font": "Liberation Serif", "fontStyle": "italic", "fontSize": 24, "align": "left", "baseline": "alphabetic", "color": "black", "dx": 59, "dy": 23}},
           {"mark": {"type": "text", "text": "[2]", "font": "DejaVu Sans", "fontSize": 14, "align": "left", "baseline": "alphabetic", "color": "black", "dx": 74, "dy": 28}}
         ]}
      ],
      "resolve": {"axis": {"x": "independent", "y": "independent"}}
    },
    {
      "width": 167, "height": 134, "data": {"name": "sq2"},
      "layer": [
        {"data": {"values": [{}]}, "mark": {"type": "rule", "color": "#333333", "strokeWidth": 1.1, "strokeDash": [11, 3, 2, 3]}, "encoding": {"y": {"datum": 1.014447, "type": "quantitative", "axis": null}}},
        {"transform": [{"filter": "datum.t == 's'"}], "mark": {"type": "square", "filled": false, "color": "black", "size": 36, "strokeWidth": 1, "opacity": 1, "clip": true},
         "encoding": {
           "x": {"field": "x", "type": "quantitative", "scale": {"domain": [0.592, 1.326], "nice": false, "zero": false}, "axis": {"orient": "bottom", "values": [0.6, 0.8, 1, 1.2], "labels": false, "title": null}},
           "y": {"field": "y", "type": "quantitative", "scale": {"domain": [1.01412, 1.01497], "nice": false, "zero": false}, "axis": {"orient": "left", "values": [1.0142, 1.0144, 1.0146, 1.0148], "labels": false, "title": null}}}},
        {"transform": [{"filter": "datum.t == 'c'"}], "mark": {"type": "circle", "color": "black", "size": 56, "opacity": 1, "clip": true},
         "encoding": {
           "x": {"field": "x", "type": "quantitative", "axis": {"orient": "top", "values": [0.6, 0.8, 1, 1.2], "labels": false, "title": null}},
           "y": {"field": "y", "type": "quantitative", "axis": {"orient": "right", "values": [1.0142, 1.0144, 1.0146, 1.0148], "format": "~g", "title": null}}}},
        {"mark": {"type": "point", "opacity": 0},
         "encoding": {
           "x": {"field": "x", "type": "quantitative", "axis": {"orient": "bottom", "values": [0.6,0.65,0.7,0.75,0.8,0.85,0.9,0.95,1,1.05,1.1,1.15,1.2,1.25,1.3], "labels": false, "tickSize": -4, "title": null}},
           "y": {"field": "y", "type": "quantitative", "axis": {"orient": "left", "values": [1.01415,1.0142,1.01425,1.0143,1.01435,1.0144,1.01445,1.0145,1.01455,1.0146,1.01465,1.0147,1.01475,1.0148,1.01485,1.0149,1.01495], "labels": false, "tickSize": -4, "title": null}}}},
        {"mark": {"type": "point", "opacity": 0},
         "encoding": {
           "x": {"field": "x", "type": "quantitative", "axis": {"orient": "top", "values": [0.6,0.65,0.7,0.75,0.8,0.85,0.9,0.95,1,1.05,1.1,1.15,1.2,1.25,1.3], "labels": false, "tickSize": -4, "title": null}},
           "y": {"field": "y", "type": "quantitative", "axis": {"orient": "right", "values": [1.01415,1.0142,1.01425,1.0143,1.01435,1.0144,1.01445,1.0145,1.01455,1.0146,1.01465,1.0147,1.01475,1.0148,1.01485,1.0149,1.01495], "labels": false, "tickSize": -4, "title": null}}}},
        {"data": {"values": [{}]},
         "encoding": {"x": {"datum": 0.592, "type": "quantitative", "axis": null}, "y": {"datum": 1.01497, "type": "quantitative", "axis": null}},
         "layer": [
           {"mark": {"type": "text", "text": "α", "font": "Liberation Serif", "fontStyle": "italic", "fontSize": 24, "align": "left", "baseline": "alphabetic", "color": "black", "dx": 17, "dy": 23}},
           {"mark": {"type": "text", "text": "[3]", "font": "DejaVu Sans", "fontSize": 14, "align": "left", "baseline": "alphabetic", "color": "black", "dx": 31, "dy": 28}},
           {"mark": {"type": "text", "text": "/", "font": "Liberation Serif", "fontStyle": "italic", "fontSize": 24, "align": "left", "baseline": "alphabetic", "color": "black", "dx": 51, "dy": 24}},
           {"mark": {"type": "text", "text": "α", "font": "Liberation Serif", "fontStyle": "italic", "fontSize": 24, "align": "left", "baseline": "alphabetic", "color": "black", "dx": 59, "dy": 23}},
           {"mark": {"type": "text", "text": "[2]", "font": "DejaVu Sans", "fontSize": 14, "align": "left", "baseline": "alphabetic", "color": "black", "dx": 74, "dy": 28}}
         ]}
      ],
      "resolve": {"axis": {"x": "independent", "y": "independent"}}
    },
    {"width": 133, "height": 134, "data": {"values": [{}]}, "mark": {"type": "point", "opacity": 0}, "view": {"stroke": null}},
    {
      "width": 167, "height": 134, "data": {"name": "ta2"},
      "layer": [
        {"data": {"values": [{}]}, "mark": {"type": "rule", "color": "#333333", "strokeWidth": 1.1, "strokeDash": [11, 3, 2, 3]}, "encoding": {"y": {"datum": 0.1988, "type": "quantitative", "axis": null}}},
        {"transform": [{"filter": "datum.t == 's'"}], "mark": {"type": "square", "filled": false, "color": "black", "size": 36, "strokeWidth": 1, "opacity": 1, "clip": true},
         "encoding": {
           "x": {"field": "x", "type": "quantitative", "scale": {"domain": [1.0667, 1.1262], "nice": false, "zero": false}, "axis": {"orient": "bottom", "values": [1.08, 1.1, 1.12], "labels": false, "title": null}},
           "y": {"field": "y", "type": "quantitative", "scale": {"domain": [0.1756, 0.2207], "nice": false, "zero": false}, "axis": {"orient": "left", "values": [0.18, 0.19, 0.2, 0.21, 0.22], "format": "~g", "title": "RELATIVE ANGLE", "titleFontSize": 12.5, "titlePadding": 25}}}},
        {"transform": [{"filter": "datum.t == 'c'"}], "mark": {"type": "circle", "color": "black", "size": 56, "opacity": 1, "clip": true},
         "encoding": {
           "x": {"field": "x", "type": "quantitative", "axis": {"orient": "top", "values": [1.08, 1.1, 1.12], "labels": false, "title": null}},
           "y": {"field": "y", "type": "quantitative", "axis": {"orient": "right", "values": [0.18, 0.19, 0.2, 0.21, 0.22], "labels": false, "title": null}}}},
        {"mark": {"type": "point", "opacity": 0},
         "encoding": {
           "x": {"field": "x", "type": "quantitative", "axis": {"orient": "bottom", "values": [1.068,1.072,1.076,1.08,1.084,1.088,1.092,1.096,1.1,1.104,1.108,1.112,1.116,1.12,1.124], "labels": false, "tickSize": -4, "title": null}},
           "y": {"field": "y", "type": "quantitative", "axis": {"orient": "left", "values": [0.176,0.178,0.18,0.182,0.184,0.186,0.188,0.19,0.192,0.194,0.196,0.198,0.2,0.202,0.204,0.206,0.208,0.21,0.212,0.214,0.216,0.218,0.22], "labels": false, "tickSize": -4, "title": null}}}},
        {"mark": {"type": "point", "opacity": 0},
         "encoding": {
           "x": {"field": "x", "type": "quantitative", "axis": {"orient": "top", "values": [1.068,1.072,1.076,1.08,1.084,1.088,1.092,1.096,1.1,1.104,1.108,1.112,1.116,1.12,1.124], "labels": false, "tickSize": -4, "title": null}},
           "y": {"field": "y", "type": "quantitative", "axis": {"orient": "right", "values": [0.176,0.178,0.18,0.182,0.184,0.186,0.188,0.19,0.192,0.194,0.196,0.198,0.2,0.202,0.204,0.206,0.208,0.21,0.212,0.214,0.216,0.218,0.22], "labels": false, "tickSize": -4, "title": null}}}},
        {"data": {"values": [{}]},
         "encoding": {"x": {"datum": 1.0667, "type": "quantitative", "axis": null}, "y": {"datum": 0.2207, "type": "quantitative", "axis": null}},
         "layer": [
           {"mark": {"type": "text", "text": "θ", "font": "Liberation Serif", "fontStyle": "italic", "fontSize": 20, "align": "left", "baseline": "alphabetic", "color": "black", "dx": 18, "dy": 22}},
           {"mark": {"type": "text", "text": "[3]", "font": "DejaVu Sans", "fontSize": 14, "align": "left", "baseline": "alphabetic", "color": "black", "dx": 30, "dy": 28}},
           {"mark": {"type": "text", "text": "−", "font": "Liberation Sans", "fontSize": 16, "align": "left", "baseline": "alphabetic", "color": "black", "dx": 49, "dy": 19}},
           {"mark": {"type": "text", "text": "θ", "font": "Liberation Serif", "fontStyle": "italic", "fontSize": 20, "align": "left", "baseline": "alphabetic", "color": "black", "dx": 59, "dy": 22}},
           {"mark": {"type": "text", "text": "[2]", "font": "DejaVu Sans", "fontSize": 14, "align": "left", "baseline": "alphabetic", "color": "black", "dx": 74, "dy": 28}}
         ]}
      ],
      "resolve": {"axis": {"x": "independent", "y": "independent"}}
    },
    {
      "width": 167, "height": 134, "data": {"name": "tq2"},
      "layer": [
        {"data": {"values": [{}]}, "mark": {"type": "rule", "color": "#333333", "strokeWidth": 1.1, "strokeDash": [11, 3, 2, 3]}, "encoding": {"y": {"datum": 0.1988, "type": "quantitative", "axis": null}}},
        {"transform": [{"filter": "datum.t == 's'"}], "mark": {"type": "square", "filled": false, "color": "black", "size": 36, "strokeWidth": 1, "opacity": 1, "clip": true},
         "encoding": {
           "x": {"field": "x", "type": "quantitative", "scale": {"domain": [0.592, 1.326], "nice": false, "zero": false}, "axis": {"orient": "bottom", "values": [0.6, 0.8, 1, 1.2], "labels": false, "title": null}},
           "y": {"field": "y", "type": "quantitative", "scale": {"domain": [0.1756, 0.2207], "nice": false, "zero": false}, "axis": {"orient": "left", "values": [0.18, 0.19, 0.2, 0.21, 0.22], "labels": false, "title": null}}}},
        {"transform": [{"filter": "datum.t == 'c'"}], "mark": {"type": "circle", "color": "black", "size": 56, "opacity": 1, "clip": true},
         "encoding": {
           "x": {"field": "x", "type": "quantitative", "axis": {"orient": "top", "values": [0.6, 0.8, 1, 1.2], "labels": false, "title": null}},
           "y": {"field": "y", "type": "quantitative", "axis": {"orient": "right", "values": [0.18, 0.19, 0.2, 0.21, 0.22], "format": "~g", "title": null}}}},
        {"mark": {"type": "point", "opacity": 0},
         "encoding": {
           "x": {"field": "x", "type": "quantitative", "axis": {"orient": "bottom", "values": [0.6,0.65,0.7,0.75,0.8,0.85,0.9,0.95,1,1.05,1.1,1.15,1.2,1.25,1.3], "labels": false, "tickSize": -4, "title": null}},
           "y": {"field": "y", "type": "quantitative", "axis": {"orient": "left", "values": [0.176,0.178,0.18,0.182,0.184,0.186,0.188,0.19,0.192,0.194,0.196,0.198,0.2,0.202,0.204,0.206,0.208,0.21,0.212,0.214,0.216,0.218,0.22], "labels": false, "tickSize": -4, "title": null}}}},
        {"mark": {"type": "point", "opacity": 0},
         "encoding": {
           "x": {"field": "x", "type": "quantitative", "axis": {"orient": "top", "values": [0.6,0.65,0.7,0.75,0.8,0.85,0.9,0.95,1,1.05,1.1,1.15,1.2,1.25,1.3], "labels": false, "tickSize": -4, "title": null}},
           "y": {"field": "y", "type": "quantitative", "axis": {"orient": "right", "values": [0.176,0.178,0.18,0.182,0.184,0.186,0.188,0.19,0.192,0.194,0.196,0.198,0.2,0.202,0.204,0.206,0.208,0.21,0.212,0.214,0.216,0.218,0.22], "labels": false, "tickSize": -4, "title": null}}}},
        {"data": {"values": [{}]},
         "encoding": {"x": {"datum": 0.592, "type": "quantitative", "axis": null}, "y": {"datum": 0.2207, "type": "quantitative", "axis": null}},
         "layer": [
           {"mark": {"type": "text", "text": "θ", "font": "Liberation Serif", "fontStyle": "italic", "fontSize": 20, "align": "left", "baseline": "alphabetic", "color": "black", "dx": 18, "dy": 22}},
           {"mark": {"type": "text", "text": "[3]", "font": "DejaVu Sans", "fontSize": 14, "align": "left", "baseline": "alphabetic", "color": "black", "dx": 30, "dy": 28}},
           {"mark": {"type": "text", "text": "−", "font": "Liberation Sans", "fontSize": 16, "align": "left", "baseline": "alphabetic", "color": "black", "dx": 49, "dy": 19}},
           {"mark": {"type": "text", "text": "θ", "font": "Liberation Serif", "fontStyle": "italic", "fontSize": 20, "align": "left", "baseline": "alphabetic", "color": "black", "dx": 59, "dy": 22}},
           {"mark": {"type": "text", "text": "[2]", "font": "DejaVu Sans", "fontSize": 14, "align": "left", "baseline": "alphabetic", "color": "black", "dx": 74, "dy": 28}}
         ]}
      ],
      "resolve": {"axis": {"x": "independent", "y": "independent"}}
    },
    {
      "width": 167, "height": 134, "data": {"name": "sa3"},
      "layer": [
        {"data": {"values": [{}]}, "mark": {"type": "rule", "color": "#333333", "strokeWidth": 1.1, "strokeDash": [11, 3, 2, 3]}, "encoding": {"y": {"datum": 1.007322, "type": "quantitative", "axis": null}}},
        {"transform": [{"filter": "datum.t == 's'"}], "mark": {"type": "square", "filled": false, "color": "black", "size": 36, "strokeWidth": 1, "opacity": 1, "clip": true},
         "encoding": {
           "x": {"field": "x", "type": "quantitative", "scale": {"domain": [1.0667, 1.1262], "nice": false, "zero": false}, "axis": {"orient": "bottom", "values": [1.08, 1.1, 1.12], "format": "~g", "title": "airmass [sec z]"}},
           "y": {"field": "y", "type": "quantitative", "scale": {"domain": [1.00693, 1.00778], "nice": false, "zero": false}, "axis": {"orient": "left", "values": [1.007, 1.0072, 1.0074, 1.0076], "format": "~g", "title": null}}}},
        {"transform": [{"filter": "datum.t == 'c'"}], "mark": {"type": "circle", "color": "black", "size": 56, "opacity": 1, "clip": true},
         "encoding": {
           "x": {"field": "x", "type": "quantitative", "axis": {"orient": "top", "values": [1.08, 1.1, 1.12], "labels": false, "title": null}},
           "y": {"field": "y", "type": "quantitative", "axis": {"orient": "right", "values": [1.007, 1.0072, 1.0074, 1.0076], "labels": false, "title": null}}}},
        {"mark": {"type": "point", "opacity": 0},
         "encoding": {
           "x": {"field": "x", "type": "quantitative", "axis": {"orient": "bottom", "values": [1.068,1.072,1.076,1.08,1.084,1.088,1.092,1.096,1.1,1.104,1.108,1.112,1.116,1.12,1.124], "labels": false, "tickSize": -4, "title": null}},
           "y": {"field": "y", "type": "quantitative", "axis": {"orient": "left", "values": [1.00695,1.007,1.00705,1.0071,1.00715,1.0072,1.00725,1.0073,1.00735,1.0074,1.00745,1.0075,1.00755,1.0076,1.00765,1.0077,1.00775], "labels": false, "tickSize": -4, "title": null}}}},
        {"mark": {"type": "point", "opacity": 0},
         "encoding": {
           "x": {"field": "x", "type": "quantitative", "axis": {"orient": "top", "values": [1.068,1.072,1.076,1.08,1.084,1.088,1.092,1.096,1.1,1.104,1.108,1.112,1.116,1.12,1.124], "labels": false, "tickSize": -4, "title": null}},
           "y": {"field": "y", "type": "quantitative", "axis": {"orient": "right", "values": [1.00695,1.007,1.00705,1.0071,1.00715,1.0072,1.00725,1.0073,1.00735,1.0074,1.00745,1.0075,1.00755,1.0076,1.00765,1.0077,1.00775], "labels": false, "tickSize": -4, "title": null}}}},
        {"data": {"values": [{}]},
         "encoding": {"x": {"datum": 1.0667, "type": "quantitative", "axis": null}, "y": {"datum": 1.00778, "type": "quantitative", "axis": null}},
         "layer": [
           {"mark": {"type": "text", "text": "α", "font": "Liberation Serif", "fontStyle": "italic", "fontSize": 24, "align": "left", "baseline": "alphabetic", "color": "black", "dx": 17, "dy": 23}},
           {"mark": {"type": "text", "text": "[4]", "font": "DejaVu Sans", "fontSize": 14, "align": "left", "baseline": "alphabetic", "color": "black", "dx": 31, "dy": 28}},
           {"mark": {"type": "text", "text": "/", "font": "Liberation Serif", "fontStyle": "italic", "fontSize": 24, "align": "left", "baseline": "alphabetic", "color": "black", "dx": 51, "dy": 24}},
           {"mark": {"type": "text", "text": "α", "font": "Liberation Serif", "fontStyle": "italic", "fontSize": 24, "align": "left", "baseline": "alphabetic", "color": "black", "dx": 59, "dy": 23}},
           {"mark": {"type": "text", "text": "[2]", "font": "DejaVu Sans", "fontSize": 14, "align": "left", "baseline": "alphabetic", "color": "black", "dx": 74, "dy": 28}}
         ]}
      ],
      "resolve": {"axis": {"x": "independent", "y": "independent"}}
    },
    {
      "width": 167, "height": 134, "data": {"name": "sq3"},
      "layer": [
        {"data": {"values": [{}]}, "mark": {"type": "rule", "color": "#333333", "strokeWidth": 1.1, "strokeDash": [11, 3, 2, 3]}, "encoding": {"y": {"datum": 1.007322, "type": "quantitative", "axis": null}}},
        {"transform": [{"filter": "datum.t == 's'"}], "mark": {"type": "square", "filled": false, "color": "black", "size": 36, "strokeWidth": 1, "opacity": 1, "clip": true},
         "encoding": {
           "x": {"field": "x", "type": "quantitative", "scale": {"domain": [0.592, 1.326], "nice": false, "zero": false}, "axis": {"orient": "bottom", "values": [0.6, 0.8, 1, 1.2], "format": "~g", "title": "image quality [arcsec]"}},
           "y": {"field": "y", "type": "quantitative", "scale": {"domain": [1.00693, 1.00778], "nice": false, "zero": false}, "axis": {"orient": "left", "values": [1.007, 1.0072, 1.0074, 1.0076], "labels": false, "title": null}}}},
        {"transform": [{"filter": "datum.t == 'c'"}], "mark": {"type": "circle", "color": "black", "size": 56, "opacity": 1, "clip": true},
         "encoding": {
           "x": {"field": "x", "type": "quantitative", "axis": {"orient": "top", "values": [0.6, 0.8, 1, 1.2], "labels": false, "title": null}},
           "y": {"field": "y", "type": "quantitative", "axis": {"orient": "right", "values": [1.007, 1.0072, 1.0074, 1.0076], "format": "~g", "title": null}}}},
        {"mark": {"type": "point", "opacity": 0},
         "encoding": {
           "x": {"field": "x", "type": "quantitative", "axis": {"orient": "bottom", "values": [0.6,0.65,0.7,0.75,0.8,0.85,0.9,0.95,1,1.05,1.1,1.15,1.2,1.25,1.3], "labels": false, "tickSize": -4, "title": null}},
           "y": {"field": "y", "type": "quantitative", "axis": {"orient": "left", "values": [1.00695,1.007,1.00705,1.0071,1.00715,1.0072,1.00725,1.0073,1.00735,1.0074,1.00745,1.0075,1.00755,1.0076,1.00765,1.0077,1.00775], "labels": false, "tickSize": -4, "title": null}}}},
        {"mark": {"type": "point", "opacity": 0},
         "encoding": {
           "x": {"field": "x", "type": "quantitative", "axis": {"orient": "top", "values": [0.6,0.65,0.7,0.75,0.8,0.85,0.9,0.95,1,1.05,1.1,1.15,1.2,1.25,1.3], "labels": false, "tickSize": -4, "title": null}},
           "y": {"field": "y", "type": "quantitative", "axis": {"orient": "right", "values": [1.00695,1.007,1.00705,1.0071,1.00715,1.0072,1.00725,1.0073,1.00735,1.0074,1.00745,1.0075,1.00755,1.0076,1.00765,1.0077,1.00775], "labels": false, "tickSize": -4, "title": null}}}},
        {"data": {"values": [{}]},
         "encoding": {"x": {"datum": 0.592, "type": "quantitative", "axis": null}, "y": {"datum": 1.00778, "type": "quantitative", "axis": null}},
         "layer": [
           {"mark": {"type": "text", "text": "α", "font": "Liberation Serif", "fontStyle": "italic", "fontSize": 24, "align": "left", "baseline": "alphabetic", "color": "black", "dx": 17, "dy": 23}},
           {"mark": {"type": "text", "text": "[4]", "font": "DejaVu Sans", "fontSize": 14, "align": "left", "baseline": "alphabetic", "color": "black", "dx": 31, "dy": 28}},
           {"mark": {"type": "text", "text": "/", "font": "Liberation Serif", "fontStyle": "italic", "fontSize": 24, "align": "left", "baseline": "alphabetic", "color": "black", "dx": 51, "dy": 24}},
           {"mark": {"type": "text", "text": "α", "font": "Liberation Serif", "fontStyle": "italic", "fontSize": 24, "align": "left", "baseline": "alphabetic", "color": "black", "dx": 59, "dy": 23}},
           {"mark": {"type": "text", "text": "[2]", "font": "DejaVu Sans", "fontSize": 14, "align": "left", "baseline": "alphabetic", "color": "black", "dx": 74, "dy": 28}}
         ]}
      ],
      "resolve": {"axis": {"x": "independent", "y": "independent"}}
    },
    {"width": 133, "height": 134, "data": {"values": [{}]}, "mark": {"type": "point", "opacity": 0}, "view": {"stroke": null}},
    {
      "width": 167, "height": 134, "data": {"name": "ta3"},
      "layer": [
        {"data": {"values": [{}]}, "mark": {"type": "rule", "color": "#333333", "strokeWidth": 1.1, "strokeDash": [11, 3, 2, 3]}, "encoding": {"y": {"datum": 0.0052, "type": "quantitative", "axis": null}}},
        {"transform": [{"filter": "datum.t == 's'"}], "mark": {"type": "square", "filled": false, "color": "black", "size": 36, "strokeWidth": 1, "opacity": 1, "clip": true},
         "encoding": {
           "x": {"field": "x", "type": "quantitative", "scale": {"domain": [1.0667, 1.1262], "nice": false, "zero": false}, "axis": {"orient": "bottom", "values": [1.08, 1.1, 1.12], "format": "~g", "title": "airmass [sec z]"}},
           "y": {"field": "y", "type": "quantitative", "scale": {"domain": [-0.0164, 0.0288], "nice": false, "zero": false}, "axis": {"orient": "left", "values": [-0.01, 0, 0.01, 0.02], "format": "~g", "title": null}}}},
        {"transform": [{"filter": "datum.t == 'c'"}], "mark": {"type": "circle", "color": "black", "size": 56, "opacity": 1, "clip": true},
         "encoding": {
           "x": {"field": "x", "type": "quantitative", "axis": {"orient": "top", "values": [1.08, 1.1, 1.12], "labels": false, "title": null}},
           "y": {"field": "y", "type": "quantitative", "axis": {"orient": "right", "values": [-0.01, 0, 0.01, 0.02], "labels": false, "title": null}}}},
        {"mark": {"type": "point", "opacity": 0},
         "encoding": {
           "x": {"field": "x", "type": "quantitative", "axis": {"orient": "bottom", "values": [1.068,1.072,1.076,1.08,1.084,1.088,1.092,1.096,1.1,1.104,1.108,1.112,1.116,1.12,1.124], "labels": false, "tickSize": -4, "title": null}},
           "y": {"field": "y", "type": "quantitative", "axis": {"orient": "left", "values": [-0.016,-0.014,-0.012,-0.01,-0.008,-0.006,-0.004,-0.002,0,0.002,0.004,0.006,0.008,0.01,0.012,0.014,0.016,0.018,0.02,0.022,0.024,0.026,0.028], "labels": false, "tickSize": -4, "title": null}}}},
        {"mark": {"type": "point", "opacity": 0},
         "encoding": {
           "x": {"field": "x", "type": "quantitative", "axis": {"orient": "top", "values": [1.068,1.072,1.076,1.08,1.084,1.088,1.092,1.096,1.1,1.104,1.108,1.112,1.116,1.12,1.124], "labels": false, "tickSize": -4, "title": null}},
           "y": {"field": "y", "type": "quantitative", "axis": {"orient": "right", "values": [-0.016,-0.014,-0.012,-0.01,-0.008,-0.006,-0.004,-0.002,0,0.002,0.004,0.006,0.008,0.01,0.012,0.014,0.016,0.018,0.02,0.022,0.024,0.026,0.028], "labels": false, "tickSize": -4, "title": null}}}},
        {"data": {"values": [{}]},
         "encoding": {"x": {"datum": 1.0667, "type": "quantitative", "axis": null}, "y": {"datum": 0.0288, "type": "quantitative", "axis": null}},
         "layer": [
           {"mark": {"type": "text", "text": "θ", "font": "Liberation Serif", "fontStyle": "italic", "fontSize": 20, "align": "left", "baseline": "alphabetic", "color": "black", "dx": 18, "dy": 22}},
           {"mark": {"type": "text", "text": "[4]", "font": "DejaVu Sans", "fontSize": 14, "align": "left", "baseline": "alphabetic", "color": "black", "dx": 30, "dy": 28}},
           {"mark": {"type": "text", "text": "−", "font": "Liberation Sans", "fontSize": 16, "align": "left", "baseline": "alphabetic", "color": "black", "dx": 49, "dy": 19}},
           {"mark": {"type": "text", "text": "θ", "font": "Liberation Serif", "fontStyle": "italic", "fontSize": 20, "align": "left", "baseline": "alphabetic", "color": "black", "dx": 59, "dy": 22}},
           {"mark": {"type": "text", "text": "[2]", "font": "DejaVu Sans", "fontSize": 14, "align": "left", "baseline": "alphabetic", "color": "black", "dx": 74, "dy": 28}}
         ]}
      ],
      "resolve": {"axis": {"x": "independent", "y": "independent"}}
    },
    {
      "width": 167, "height": 134, "data": {"name": "tq3"},
      "layer": [
        {"data": {"values": [{}]}, "mark": {"type": "rule", "color": "#333333", "strokeWidth": 1.1, "strokeDash": [11, 3, 2, 3]}, "encoding": {"y": {"datum": 0.0052, "type": "quantitative", "axis": null}}},
        {"transform": [{"filter": "datum.t == 's'"}], "mark": {"type": "square", "filled": false, "color": "black", "size": 36, "strokeWidth": 1, "opacity": 1, "clip": true},
         "encoding": {
           "x": {"field": "x", "type": "quantitative", "scale": {"domain": [0.592, 1.326], "nice": false, "zero": false}, "axis": {"orient": "bottom", "values": [0.6, 0.8, 1, 1.2], "format": "~g", "title": "image quality [arcsec]"}},
           "y": {"field": "y", "type": "quantitative", "scale": {"domain": [-0.0164, 0.0288], "nice": false, "zero": false}, "axis": {"orient": "left", "values": [-0.01, 0, 0.01, 0.02], "labels": false, "title": null}}}},
        {"transform": [{"filter": "datum.t == 'c'"}], "mark": {"type": "circle", "color": "black", "size": 56, "opacity": 1, "clip": true},
         "encoding": {
           "x": {"field": "x", "type": "quantitative", "axis": {"orient": "top", "values": [0.6, 0.8, 1, 1.2], "labels": false, "title": null}},
           "y": {"field": "y", "type": "quantitative", "axis": {"orient": "right", "values": [-0.01, 0, 0.01, 0.02], "format": "~g", "title": null}}}},
        {"mark": {"type": "point", "opacity": 0},
         "encoding": {
           "x": {"field": "x", "type": "quantitative", "axis": {"orient": "bottom", "values": [0.6,0.65,0.7,0.75,0.8,0.85,0.9,0.95,1,1.05,1.1,1.15,1.2,1.25,1.3], "labels": false, "tickSize": -4, "title": null}},
           "y": {"field": "y", "type": "quantitative", "axis": {"orient": "left", "values": [-0.016,-0.014,-0.012,-0.01,-0.008,-0.006,-0.004,-0.002,0,0.002,0.004,0.006,0.008,0.01,0.012,0.014,0.016,0.018,0.02,0.022,0.024,0.026,0.028], "labels": false, "tickSize": -4, "title": null}}}},
        {"mark": {"type": "point", "opacity": 0},
         "encoding": {
           "x": {"field": "x", "type": "quantitative", "axis": {"orient": "top", "values": [0.6,0.65,0.7,0.75,0.8,0.85,0.9,0.95,1,1.05,1.1,1.15,1.2,1.25,1.3], "labels": false, "tickSize": -4, "title": null}},
           "y": {"field": "y", "type": "quantitative", "axis": {"orient": "right", "values": [-0.016,-0.014,-0.012,-0.01,-0.008,-0.006,-0.004,-0.002,0,0.002,0.004,0.006,0.008,0.01,0.012,0.014,0.016,0.018,0.02,0.022,0.024,0.026,0.028], "labels": false, "tickSize": -4, "title": null}}}},
        {"data": {"values": [{}]},
         "encoding": {"x": {"datum": 0.592, "type": "quantitative", "axis": null}, "y": {"datum": 0.0288, "type": "quantitative", "axis": null}},
         "layer": [
           {"mark": {"type": "text", "text": "α", "font": "Liberation Serif", "fontStyle": "italic", "fontSize": 24, "align": "left", "baseline": "alphabetic", "color": "black", "dx": 17, "dy": 23}},
           {"mark": {"type": "text", "text": "[4]", "font": "DejaVu Sans", "fontSize": 14, "align": "left", "baseline": "alphabetic", "color": "black", "dx": 31, "dy": 28}},
           {"mark": {"type": "text", "text": "/", "font": "Liberation Serif", "fontStyle": "italic", "fontSize": 24, "align": "left", "baseline": "alphabetic", "color": "black", "dx": 51, "dy": 24}},
           {"mark": {"type": "text", "text": "α", "font": "Liberation Serif", "fontStyle": "italic", "fontSize": 24, "align": "left", "baseline": "alphabetic", "color": "black", "dx": 59, "dy": 23}},
           {"mark": {"type": "text", "text": "[2]", "font": "DejaVu Sans", "fontSize": 14, "align": "left", "baseline": "alphabetic", "color": "black", "dx": 74, "dy": 28}}
         ]}
      ],
      "resolve": {"axis": {"x": "independent", "y": "independent"}}
    }
  ],
  "columns": 5,
  "spacing": 7,
  "bounds": "flush",
  "config": {
    "view": {"stroke": "black", "strokeWidth": 1.6},
    "axis": {
      "grid": false, "domain": false, "ticks": true, "tickSize": -7, "tickColor": "black", "tickWidth": 1,
      "labelFont": "DejaVu Sans", "labelFontSize": 11, "labelColor": "black",
      "labelOverlap": false, "labelFlush": false, "labelBound": false,
      "titleFont": "DejaVu Serif", "titleFontWeight": "normal", "titleColor": "black", "titleFontSize": 15
    },
    "axisLeft": {"labelPadding": 14},
    "axisRight": {"labelPadding": 15},
    "axisTop": {"labelPadding": 10},
    "axisBottom": {"labelPadding": 10, "titlePadding": 13}
  }
}
